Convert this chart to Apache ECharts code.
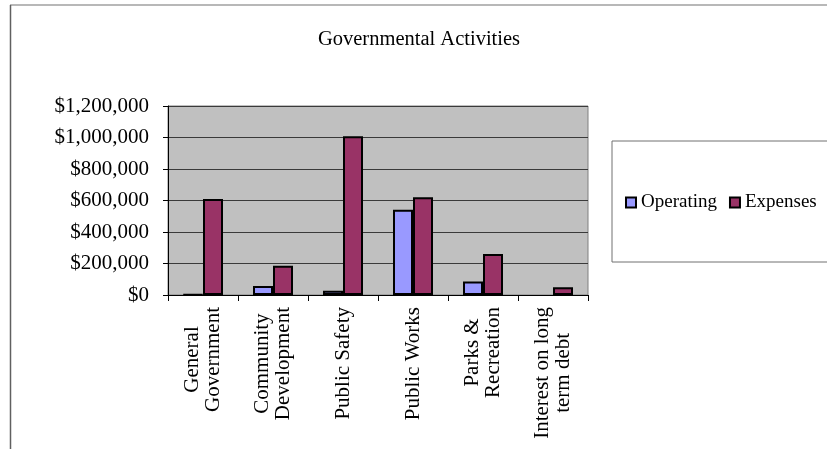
<!DOCTYPE html>
<html>
<head>
<meta charset="utf-8">
<script src="https://cdn.jsdelivr.net/npm/echarts@6/dist/echarts.min.js"></script>
<style>
html,body{margin:0;padding:0;background:#fff;}
#chart{width:827px;height:449px;}
</style>
</head>
<body>
<div id="chart"></div>
<script>
const categories = ['General\nGovernment', 'Community\nDevelopment', 'Public Safety', 'Public Works', 'Parks &\nRecreation', 'Interest on long\nterm debt'];
const operating = [3000, 57000, 27000, 541000, 85000, null];
const expenses = [610000, 185000, 1008000, 620000, 261000, 49000];
const seriesNames = ['Operating', 'Expenses'];
const yTicks = { min: 0, max: 1200000, interval: 200000 };

const FONT = 'Liberation Serif';
const chart = echarts.init(document.getElementById('chart'), null, { renderer: 'canvas' });

chart.setOption({
  backgroundColor: '#ffffff',
  animation: false,
  title: {
    text: 'Governmental Activities',
    left: 419,
    textAlign: 'center',
    top: 29,
    padding: 0,
    textStyle: { fontFamily: FONT, fontSize: 20.5, fontWeight: 'normal', color: '#000' }
  },
  legend: {
    data: seriesNames,
    left: 612,
    top: 141,
    width: 205,
    orient: 'horizontal',
    padding: [52, 24, 50, 13],
    borderColor: '#707070',
    borderWidth: 1,
    itemWidth: 10,
    itemHeight: 10,
    itemGap: 12,
    icon: 'rect',
    textStyle: { fontFamily: FONT, fontSize: 19, color: '#000' }
  },
  grid: {
    left: 168, right: 239, top: 106, bottom: 154,
    show: true,
    backgroundColor: '#c0c0c0',
    borderColor: '#808080',
    borderWidth: 1
  },
  xAxis: {
    type: 'category',
    data: categories,
    axisLine: { lineStyle: { color: '#000', width: 1 } },
    axisTick: { show: true, length: 6, lineStyle: { color: '#000' } },
    axisLabel: {
      interval: 0,
      rotate: 90,
      margin: 12,
      color: '#000',
      fontFamily: FONT,
      fontSize: 21,
      lineHeight: 21,
      formatter: function (v) {
        return v.split('\n').map(function (s) { return '{c|' + s + '}'; }).join('\n');
      },
      rich: {
        c: { align: 'center', fontFamily: FONT, fontSize: 21, lineHeight: 21, color: '#000' }
      }
    }
  },
  yAxis: {
    type: 'value',
    min: yTicks.min,
    max: yTicks.max,
    interval: yTicks.interval,
    axisLine: { show: true, lineStyle: { color: '#000', width: 1 } },
    axisTick: { show: true, length: 5, lineStyle: { color: '#000' } },
    splitLine: { show: true, lineStyle: { color: '#3a3a3a', width: 1 } },
    axisLabel: {
      margin: 19,
      color: '#000',
      fontFamily: FONT,
      fontSize: 21,
      formatter: function (v) { return '$' + v.toLocaleString('en-US'); }
    }
  },
  series: [
    {
      name: seriesNames[0],
      type: 'bar',
      data: operating,
      barWidth: 20,
      barGap: '0%',
      itemStyle: { color: '#9999ff', borderColor: '#000', borderWidth: 2 }
    },
    {
      name: seriesNames[1],
      type: 'bar',
      data: expenses,
      barWidth: 20,
      barGap: '0%',
      itemStyle: { color: '#993366', borderColor: '#000', borderWidth: 2 }
    }
  ],
  graphic: [
    { type: 'line', shape: { x1: 10, y1: 5, x2: 827, y2: 5 }, style: { stroke: '#a0a0a0', lineWidth: 1.5 } },
    { type: 'line', shape: { x1: 10.5, y1: 5, x2: 10.5, y2: 449 }, style: { stroke: '#606060', lineWidth: 1.5 } }
  ]
});
</script>
</body>
</html>
